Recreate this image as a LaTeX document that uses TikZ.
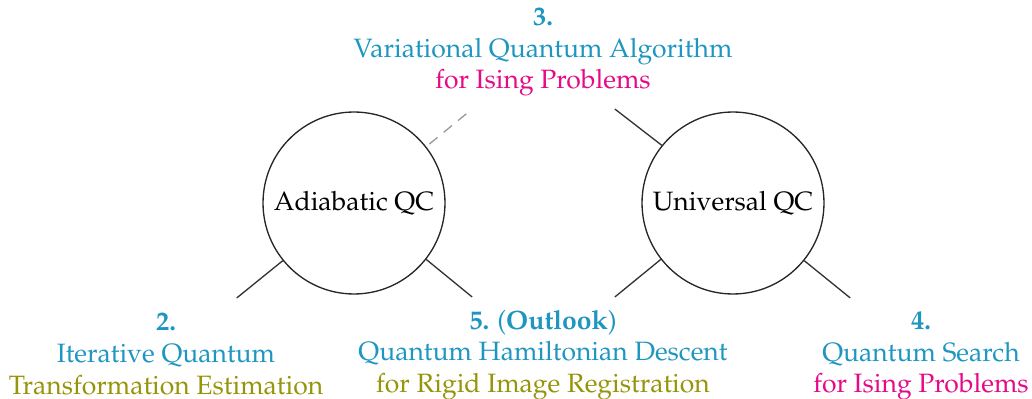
\documentclass[tikz,border=0pt]{standalone}
\usepackage[T1]{fontenc}
\usepackage{mathpazo}
\definecolor{qblue}{RGB}{30,150,192}
\definecolor{qpink}{RGB}{229,10,135}
\definecolor{qolive}{RGB}{150,148,8}
\begin{document}
\begin{tikzpicture}[x=0.377pt,y=-0.377pt,
  qc/.style={circle,draw=black!85,line width=0.5pt,minimum size=68.6pt,inner sep=0pt,font=\normalsize},
  lbl/.style={align=center,inner sep=0pt,font=\normalsize},
  link/.style={draw=black!80,line width=0.5pt},
  dlink/.style={draw=black!40,line width=0.5pt,dash pattern=on 4pt off 3pt}]
\useasboundingbox (0,0) rectangle (1032,399);
\node[qc] (A) at (354,203) {Adiabatic QC};
\node[qc] (U) at (733,203) {Universal QC};
\coordinate (a1) at ([shift={(219:56.9pt)}]A.center);
\coordinate (a2) at ([shift={(-38.5:56.9pt)}]A.center);
\coordinate (a3) at ([shift={(38.5:56.9pt)}]A.center);
\coordinate (u1) at ([shift={(141.5:56.9pt)}]U.center);
\coordinate (u2) at ([shift={(218.5:56.9pt)}]U.center);
\coordinate (u3) at ([shift={(-39:56.9pt)}]U.center);
\draw[link] (A.219) -- (a1);
\draw[link] (A.-38.5) -- (a2);
\draw[dlink] ([shift={(38.5:1.5pt)}]A.38.5) -- (a3);
\draw[link] (U.141.5) -- (u1);
\draw[link] (U.218.5) -- (u2);
\draw[link] (U.-39) -- (u3);
\node[lbl] (t3) at (543,52) {\textcolor{qblue}{\textbf{3.}}\\
  \textcolor{qblue}{Variational Quantum Algorithm}\\
  \textcolor{qpink}{for Ising Problems}};
\node[lbl] (t2) at (166,354) {\textcolor{qblue}{\textbf{2.}}\\
  \textcolor{qblue}{Iterative Quantum}\\
  \textcolor{qolive}{Transformation Estimation}};
\node[lbl] (t5) at (543,355) {\textcolor{qblue}{\textbf{5.} (\textbf{Outlook})}\\
  \textcolor{qblue}{Quantum Hamiltonian Descent}\\
  \textcolor{qolive}{for Rigid Image Registration}};
\node[lbl] (t4) at (921,356) {\textcolor{qblue}{\textbf{4.}}\\
  \textcolor{qblue}{Quantum Search}\\
  \textcolor{qpink}{for Ising Problems}};
\end{tikzpicture}
\end{document}
